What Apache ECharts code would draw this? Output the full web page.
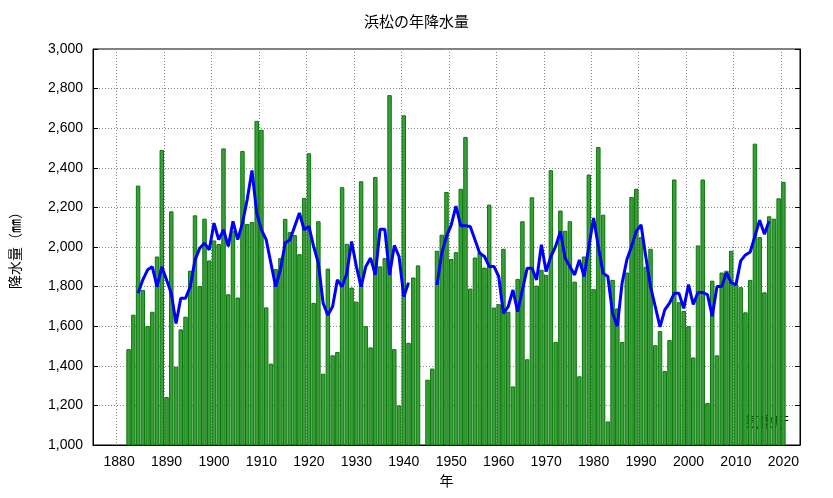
<!DOCTYPE html>
<html lang="ja">
<head>
<meta charset="utf-8">
<script src="https://cdn.jsdelivr.net/npm/echarts@6/dist/echarts.min.js"></script>
<title>浜松の年降水量</title>
<style>
  html, body { margin: 0; padding: 0; background: #fff; }
  #chart { width: 833px; height: 498px; }
</style>
</head>
<body>
<div id="chart"></div>
<script>
// 年降水量 (1882-2020, 1944欠測)
var firstYear = 1882;
var rain = [
  1484,1658,2310,1783,1601,1673,1952,2490,1242,2180,
  1395,1584,1648,1880,2160,1803,2143,1932,2033,2015,
  2498,1761,2080,1745,2485,2116,2126,2637,2592,1695,
  1411,1888,1944,2142,2075,2060,1964,2248,2473,1718,
  2130,1360,1891,1453,1470,2302,2016,1795,1724,2332,
  1600,1493,2354,1902,1944,2767,1484,1200,2665,1516,
  1846,1907,null,1330,1386,1981,2062,2278,1939,1974,
  2294,2556,1790,1947,1974,1896,2214,1694,1711,1991,
  1673,1296,1839,2130,1433,2251,1805,1885,1859,2388,
  1521,2184,2082,2130,1825,1347,1952,2366,1787,2505,
  2163,1119,1834,1690,1520,1871,2253,2294,2050,1900,
  1991,1504,1575,1374,1530,2341,1721,1677,1600,1442,
  2008,2341,1212,1830,1453,1871,1880,1981,1812,1797,
  1670,1834,2522,2050,1771,2155,2143,2246,2329
];
// 5年移動平均 (前半 1884-1941, 後半 1947-2017)
var avgStart1 = 1884;
var avg1 = [
  1766,1834,1885,1900,1800,1900,1834,1766,1614,1741,
  1741,1800,1935,1994,2020,1986,2121,2037,2087,2003,
  2130,2037,2121,2240,2387,2172,2087,2037,1918,1800,
  1885,2020,2037,2104,2172,2087,2104,2003,1918,1716,
  1656,1699,1834,1800,1868,2028,1902,1800,1902,1944,
  1859,2090,2090,1859,2008,1952,1749,1820
];
var avgStart2 = 1947;
var avg2 = [
  1808,1969,2053,2112,2206,2107,2107,2104,2037,1969,
  1952,1902,1902,1851,1665,1699,1783,1673,1783,1893,
  1893,1834,2011,1876,1952,2003,2079,1944,1902,1859,
  1935,1851,2003,2147,2003,1868,1851,1665,1600,1817,
  1935,2003,2079,2112,1952,1800,1699,1597,1682,1716,
  1766,1766,1690,1810,1710,1770,1770,1760,1650,1800,
  1800,1870,1820,1810,1930,1960,1975,2055,2135,2065,
  2130
];
var axisFrom = 1875, axisTo = 2023;

var years = [], barData = [], lineData = [];
for (var y = axisFrom; y <= axisTo; y++) {
  years.push(String(y));
  var i = y - firstYear;
  barData.push(i >= 0 && i < rain.length ? rain[i] : null);
  var a = null;
  if (y >= avgStart1 && y - avgStart1 < avg1.length) a = avg1[y - avgStart1];
  if (y >= avgStart2 && y - avgStart2 < avg2.length) a = avg2[y - avgStart2];
  lineData.push(a);
}

var font = 'Liberation Sans, "Noto Sans CJK JP", sans-serif';
var decade = function (idx, val) { return Number(val) % 10 === 0; };

var myChart = echarts.init(document.getElementById('chart'));
var option = {
  animation: false,
  textStyle: { fontFamily: font },
  title: {
    text: '浜松の年降水量',
    left: 'center', top: 10,
    textStyle: { fontSize: 15, fontWeight: 'normal', color: '#000', fontFamily: font }
  },
  grid: {
    left: 93, right: 33, top: 49, bottom: 53,
    show: true, borderColor: '#000', borderWidth: 1
  },
  xAxis: {
    type: 'category',
    data: years,
    name: '年', nameLocation: 'middle', nameGap: 30,
    nameTextStyle: { fontSize: 14, color: '#000' },
    axisLine: { lineStyle: { color: '#000' } },
    axisTick: { interval: decade, alignWithLabel: true, inside: true, length: 5, lineStyle: { color: '#000' } },
    axisLabel: { interval: decade, color: '#000', fontSize: 14, margin: 10 },
    splitLine: { show: true, interval: decade, lineStyle: { color: '#888', type: [1, 2] } }
  },
  yAxis: [{
    type: 'value', min: 1000, max: 3000, interval: 200,
    name: '降水量（㎜）', nameLocation: 'middle', nameGap: 70, nameRotate: 90,
    nameTextStyle: { fontSize: 14, color: '#000' },
    axisLine: { show: true, lineStyle: { color: '#000' } },
    axisTick: { show: true, inside: true, length: 5, lineStyle: { color: '#000' } },
    axisLabel: { color: '#000', fontSize: 14, margin: 10 },
    splitLine: { lineStyle: { color: '#888', type: [1, 2] } }
  }, {
    type: 'value', min: 1000, max: 3000, interval: 200, position: 'right',
    axisLine: { show: true, lineStyle: { color: '#000' } },
    axisTick: { show: true, inside: true, length: 5, lineStyle: { color: '#000' } },
    axisLabel: { show: false },
    splitLine: { show: false }
  }],
  series: [{
    name: '年降水量',
    type: 'bar',
    data: barData,
    barCategoryGap: '6%',
    itemStyle: { color: '#3a9e3a', borderColor: '#0a780a', borderWidth: 1 }
  }, {
    name: '5年移動平均',
    type: 'line',
    data: lineData,
    connectNulls: false,
    showSymbol: false,
    lineStyle: { color: '#0000ff', width: 3 },
    z: 5
  }],
  graphic: [{
    type: 'text', right: 44, top: 415,
    style: { text: '気象庁', fontSize: 15, fill: '#000', fontFamily: font }
  }]
};
myChart.setOption(option);
</script>
</body>
</html>
